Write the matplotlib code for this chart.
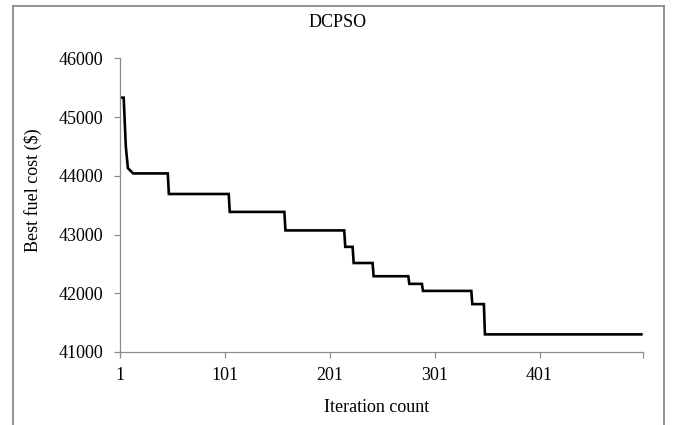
import matplotlib
matplotlib.use("Agg")
import matplotlib.pyplot as plt
from matplotlib.lines import Line2D

# Data (key points of the convergence curve)
iterations = [1, 5, 7, 9, 14, 47, 48, 105, 106, 158, 159, 215, 216, 223, 224,
              242, 243, 276, 277, 289, 290, 336, 337, 348, 349, 498]
best_cost = [45330, 45330, 44500, 44130, 44040, 44040, 43690, 43690, 43385,
             43385, 43070, 43070, 42790, 42790, 42515, 42515, 42290, 42290,
             42160, 42160, 42040, 42040, 41815, 41815, 41300, 41300]
x_ticks = [1, 101, 201, 301, 401]
y_ticks = [41000, 42000, 43000, 44000, 45000, 46000]

plt.rcParams['font.family'] = ['Liberation Serif', 'DejaVu Serif']

W, H = 673, 425
fig = plt.figure(figsize=(W / 100, H / 100), dpi=100)
left, right, bottom, top = 119.5, 643.5, 352, 58.3
ax = fig.add_axes([left / W, 1 - bottom / H, (right - left) / W, (bottom - top) / H])

ax.plot(iterations, best_cost, color='black', lw=1.9, solid_joinstyle='miter')

ax.set_xlim(1, 500)
ax.set_ylim(41000, 46000)
ax.set_xticks(x_ticks + [500])
ax.set_xticklabels([str(t) for t in x_ticks] + [''])
ax.set_yticks(y_ticks)
ax.set_yticklabels([str(t) for t in y_ticks])

grey = '#8c8c8c'
for s in ['top', 'right']:
    ax.spines[s].set_visible(False)
for s in ['left', 'bottom']:
    ax.spines[s].set_color(grey)
    ax.spines[s].set_linewidth(0.9)
fs = 13
ax.tick_params(axis='both', colors=grey, labelcolor='black', labelsize=fs,
               length=4.5, width=0.9, direction='out')
ax.tick_params(axis='y', pad=7)
ax.tick_params(axis='x', pad=6)

fig.text(338 / W, 1 - 22.5 / H, 'DCPSO', ha='center', va='center', fontsize=fs)
fig.text(377 / W, 1 - 408 / H, 'Iteration count', ha='center', va='center', fontsize=fs)
fig.text(33 / W, 1 - 190 / H, 'Best fuel cost ($)', ha='center', va='center',
         rotation=90, fontsize=fs)

# outer chart frame
fx0, fx1, fy0 = 12.5 / W, 664 / W, 1 - 6 / H
for xs, ys in [([fx0, fx0], [-0.05, fy0]), ([fx0, fx1], [fy0, fy0]), ([fx1, fx1], [fy0, -0.05])]:
    fig.add_artist(Line2D(xs, ys, transform=fig.transFigure, color='#8a8a8a', lw=1.3))

fig.savefig('out.png', dpi=100)
